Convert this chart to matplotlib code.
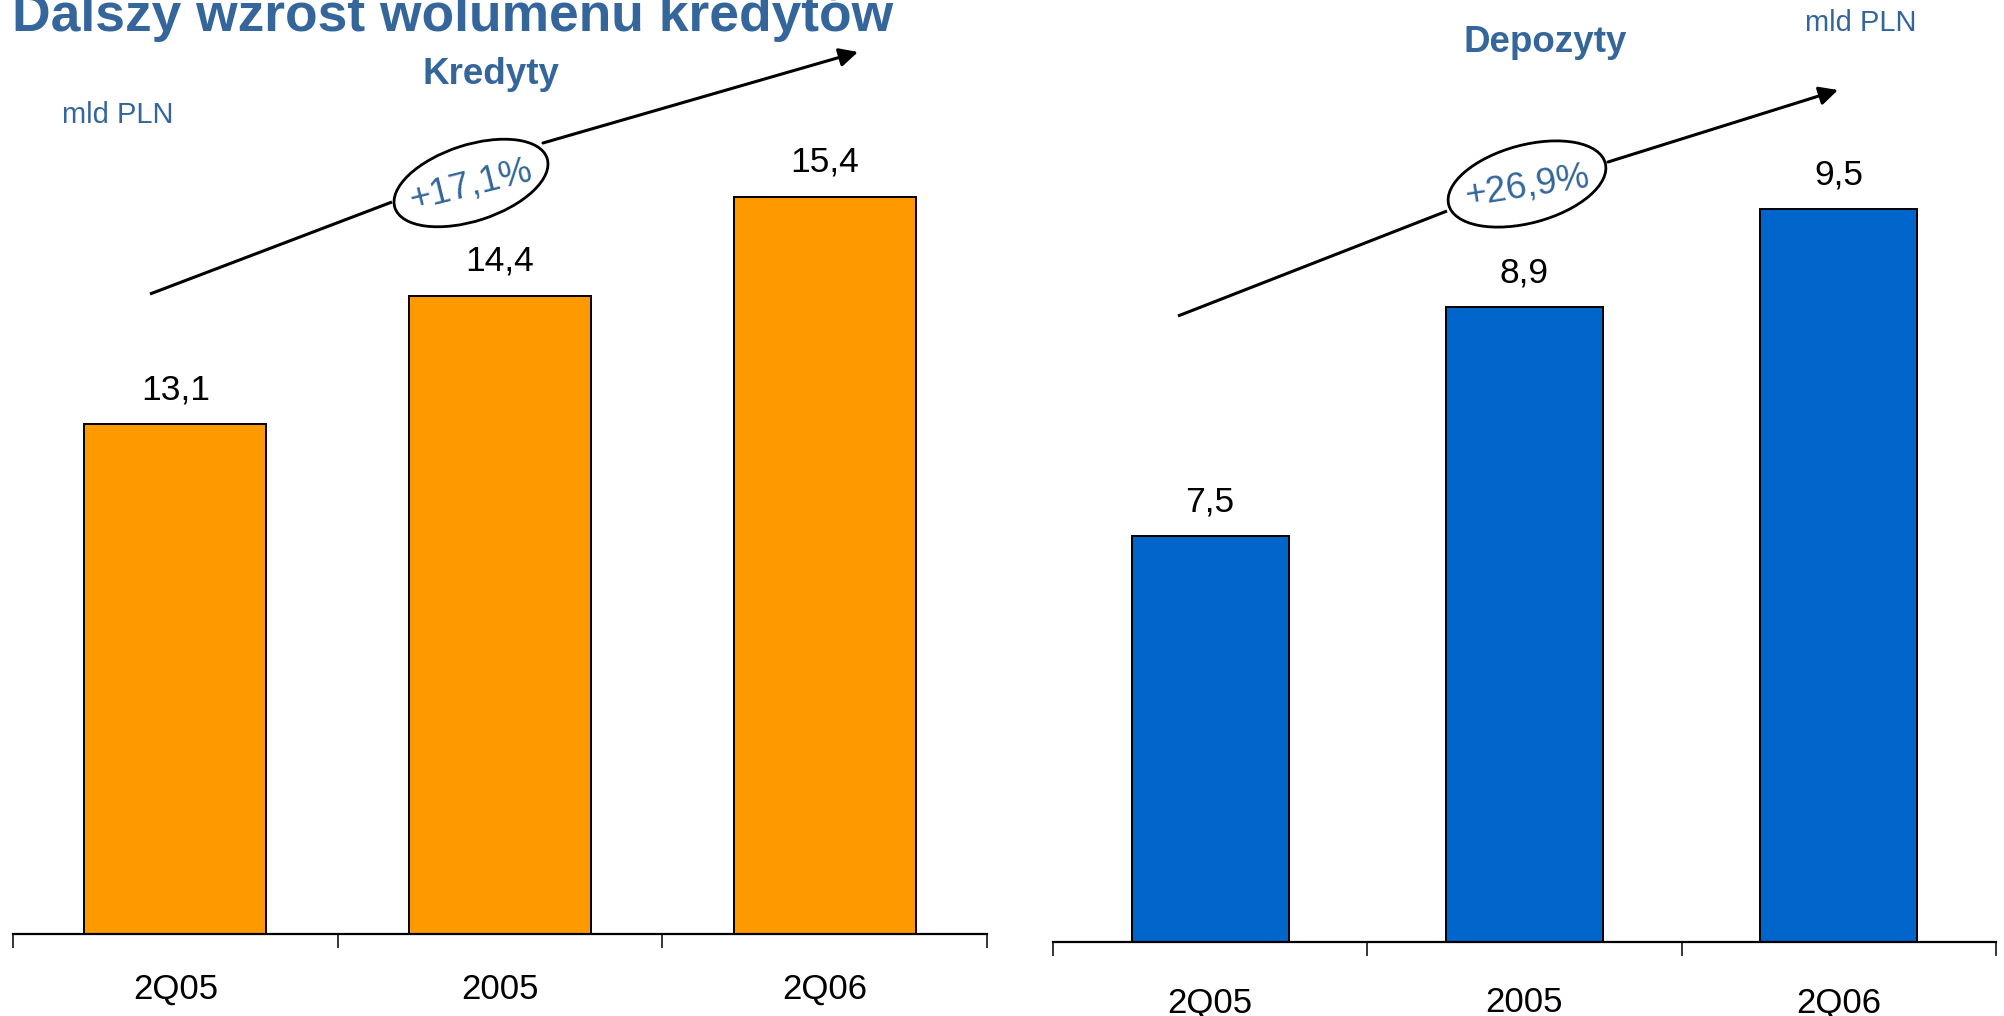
import matplotlib
matplotlib.use("Agg")
import matplotlib.pyplot as plt
from matplotlib.patches import Ellipse

plt.rcParams['font.family'] = ['Liberation Sans', 'DejaVu Sans']

# ---- data ----
categories = ["2Q05", "2005", "2Q06"]
loans = [13.1, 14.4, 15.4]
deposits = [7.5, 8.9, 9.5]
loan_labels = ["13,1", "14,4", "15,4"]
deposit_labels = ["7,5", "8,9", "9,5"]
loan_growth = "+17,1%"
deposit_growth = "+26,9%"

TITLE = "Dalszy wzrost wolumenu kredytów"
BLUE_TXT = "#35669B"
ORANGE = "#FF9900"
BLUE_BAR = "#0066CC"

W, H = 2004, 1016
fig = plt.figure(figsize=(W / 100, H / 100), dpi=100)


def frac_box(x0, x1, y_base):
    # axes from baseline (pixels from top) to the top of the figure
    return [x0 / W, (H - y_base) / H, (x1 - x0) / W, y_base / H]


def bar_panel(rect, values, labels, color, width, ymin, ppu, label_pad):
    ax = fig.add_axes(rect)
    x = range(len(values))
    ax.bar(x, values, width=width, color=color, edgecolor="black",
           linewidth=1.4, bottom=0, zorder=2)
    height_px = rect[3] * H
    ax.set_ylim(ymin, ymin + height_px / ppu)
    ax.set_xlim(-0.5, len(values) - 0.5)
    for xi, v, lab in zip(x, values, labels):
        ax.annotate(lab, xy=(xi, v), xytext=(0, 18), textcoords="offset points",
                    ha="center", va="baseline", fontsize=25.5, color="black")
    for s in ["top", "right", "left"]:
        ax.spines[s].set_visible(False)
    ax.spines["bottom"].set_linewidth(1.6)
    ax.yaxis.set_visible(False)
    ax.set_xticks([i - 0.5 for i in range(len(values) + 1)])
    ax.set_xticklabels([])
    ax.tick_params(axis="x", which="major", direction="out", length=10, width=1.1)
    ax.set_xticks(list(x), minor=True)
    ax.set_xticklabels(categories, minor=True, fontsize=25)
    ax.tick_params(axis="x", which="minor", length=0, pad=label_pad)
    ax.patch.set_alpha(0)
    return ax


ax1 = bar_panel(frac_box(13, 987, 934), loans, loan_labels, ORANGE, 0.56,
                7.945, 98.9, 28)
ax2 = bar_panel(frac_box(1053, 1996, 942), deposits, deposit_labels, BLUE_BAR, 0.5,
                5.02, 163.6, 32)

# ---- overlay for titles / annotations (pixel coordinates, y from top) ----
ov = fig.add_axes([0, 0, 1, 1], zorder=5)
ov.set_xlim(0, W)
ov.set_ylim(H, 0)
ov.axis("off")
ov.patch.set_alpha(0)

ov.text(12, 31, TITLE, fontsize=38.4, fontweight="bold", color=BLUE_TXT,
        ha="left", va="baseline")
ov.text(491, 84, "Kredyty", fontsize=26.5, fontweight="bold", color=BLUE_TXT,
        ha="center", va="baseline")
ov.text(1545, 52, "Depozyty", fontsize=26.5, fontweight="bold", color=BLUE_TXT,
        ha="center", va="baseline")
ov.text(62, 123, "mld PLN", fontsize=21, color=BLUE_TXT, ha="left", va="baseline")
ov.text(1805, 31, "mld PLN", fontsize=21, color=BLUE_TXT, ha="left", va="baseline")


def growth(seg1, seg2, center, w, h, ang, text, trot):
    ov.plot([seg1[0][0], seg1[1][0]], [seg1[0][1], seg1[1][1]],
            color="black", lw=2.2, solid_capstyle="butt")
    ov.annotate("", xy=seg2[1], xytext=seg2[0],
                arrowprops=dict(arrowstyle="-|>", lw=2.2, color="black",
                                mutation_scale=28, shrinkA=0, shrinkB=0))
    # y axis inverted: negative angle tilts up-right visually
    ov.add_patch(Ellipse(center, w, h, angle=-ang, fill=False,
                         edgecolor="black", lw=2.0))
    ov.text(center[0], center[1] + 2, text, fontsize=26.5, color=BLUE_TXT,
            rotation=trot, ha="center", va="center", rotation_mode="anchor")


growth(((150, 294), (392, 202)), ((543, 143), (858, 52)), (471, 183), 160, 76, 18,
       loan_growth, 14)
growth(((1178, 316), (1447, 211)), ((1608, 162), (1838, 90)), (1527, 184), 162, 78, 15,
       deposit_growth, 9)

fig.savefig("out.png", dpi=100)
